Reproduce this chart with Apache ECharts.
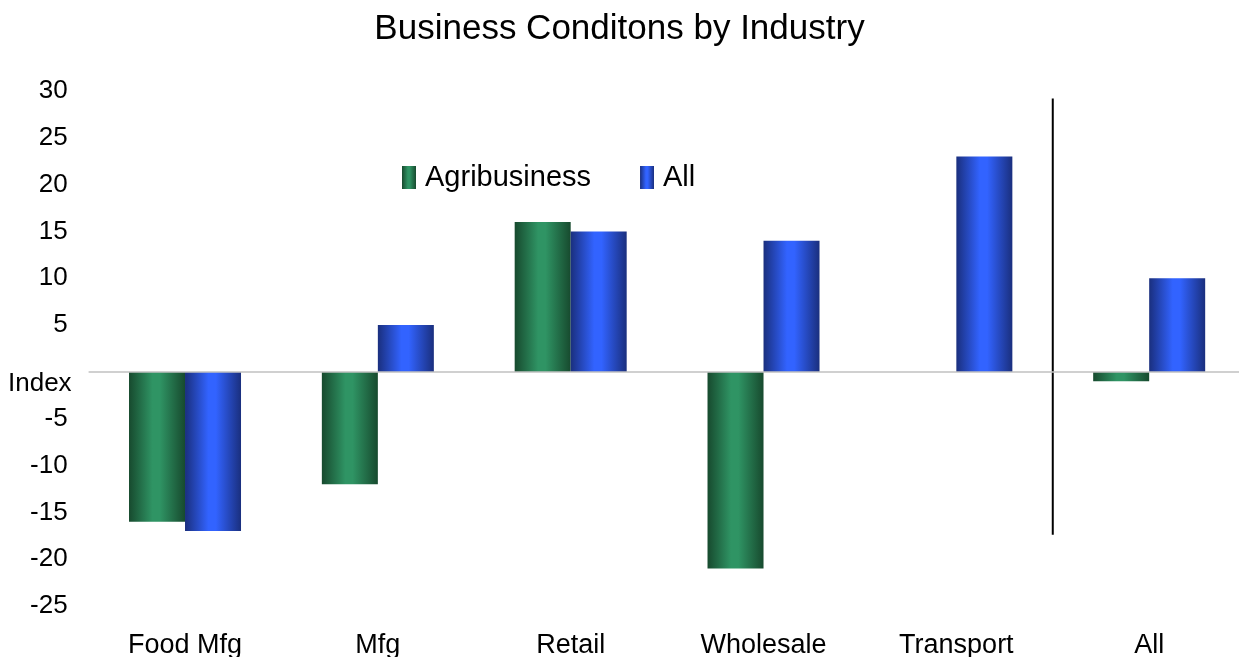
<!DOCTYPE html>
<html><head><meta charset="utf-8">
<script src="https://cdn.jsdelivr.net/npm/echarts@6/dist/echarts.min.js"></script>
<style>html,body{margin:0;padding:0;background:#fff}#c{width:1239px;height:657px}</style>
</head><body><div id="c"></div>
<script>
const categories = ['Food Mfg', 'Mfg', 'Retail', 'Wholesale', 'Transport', 'All'];
const agribusiness = [-16, -12, 16, -21, null, -1];
const allIndustry = [-17, 5, 15, 14, 23, 10];
const seriesNames = ['Agribusiness', 'All'];
const titleText = 'Business Conditons by Industry';
const yMin = -25, yMax = 30, yStep = 5;

function grad(dark, light) {
  return new echarts.graphic.LinearGradient(0, 0, 1, 0, [
    {offset: 0, color: dark}, {offset: 0.42, color: light}, {offset: 0.55, color: light}, {offset: 1, color: dark}
  ]);
}
const green = grad('#174a2e', '#2f9464');
const blue = grad('#1a2f7e', '#3263ff');

const chart = echarts.init(document.getElementById('c'));
const font = 'Liberation Sans, Arial, sans-serif';
chart.setOption({
  animation: false,
  title: {text: titleText, left: 'center', top: 7, textStyle: {fontFamily: font, fontSize: 35, fontWeight: 'normal', color: '#000'}},
  legend: {
    data: seriesNames, left: 397, top: 158, itemWidth: 14, itemHeight: 23, itemGap: 49,
    textStyle: {fontFamily: font, fontSize: 29, color: '#000', padding: [0, 0, 0, 4]}, icon: 'rect'
  },
  grid: {left: 88.6, top: 91, width: 1157, height: 515, containLabel: false, outerBoundsMode: 'none'},
  xAxis: {
    type: 'category', data: categories, position: 'bottom',
    axisLine: {show: false}, axisTick: {show: false},
    axisLabel: {fontFamily: font, fontSize: 27, color: '#000', margin: 26}
  },
  yAxis: {
    type: 'value', min: yMin, max: yMax, interval: yStep,
    splitLine: {show: false}, axisLine: {show: false}, axisTick: {show: false},
    axisLabel: {fontFamily: font, fontSize: 26, color: '#000', margin: 21,
      formatter: v => v === 0 ? '' : String(v)}
  },
  series: [
    {name: seriesNames[0], type: 'bar', data: agribusiness, barWidth: 56, barGap: '0%',
     itemStyle: {color: green},
     markLine: {silent: true, symbol: 'none', label: {show: false}, lineStyle: {color: '#c0c0c0', width: 1.5, type: 'solid'}, data: [{yAxis: 0}]}},
    {name: seriesNames[1], type: 'bar', data: allIndustry, barWidth: 56, barGap: '0%',
     itemStyle: {color: blue}}
  ]
});

function addGraphics() {
  const xa = chart.convertToPixel({xAxisIndex: 0}, 'Transport');
  const xb = chart.convertToPixel({xAxisIndex: 0}, 'All');
  const xm = (xa + xb) / 2;
  const yTop = chart.convertToPixel({yAxisIndex: 0}, 29.2);
  const yBot = chart.convertToPixel({yAxisIndex: 0}, -17.4);
  const y0 = chart.convertToPixel({yAxisIndex: 0}, 0);
  chart.setOption({graphic: [
    {type: 'line', shape: {x1: xm, y1: yTop, x2: xm, y2: yBot}, style: {stroke: '#000', lineWidth: 2}},
    {type: 'text', x: 8, y: y0 + 12, style: {text: 'Index', font: '26px Liberation Sans, Arial, sans-serif', fill: '#000', textVerticalAlign: 'middle'}}
  ]});
}
addGraphics();
</script></body></html>
